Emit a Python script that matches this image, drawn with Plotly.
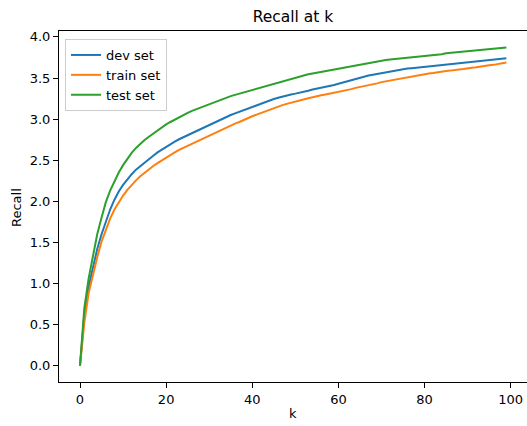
import plotly.graph_objects as go

k = list(range(100))

dev_set = [0.00, 0.62, 0.96, 1.19, 1.42, 1.60, 1.76, 1.90, 2.02, 2.12,
           2.20, 2.27, 2.33, 2.385, 2.43, 2.475, 2.515, 2.555, 2.595, 2.63,
           2.665, 2.695, 2.725, 2.755, 2.78, 2.805, 2.83, 2.855, 2.88, 2.905,
           2.93, 2.955, 2.98, 3.005, 3.03, 3.05, 3.07, 3.09, 3.11, 3.13,
           3.15, 3.17, 3.19, 3.21, 3.23, 3.245, 3.26, 3.275, 3.29, 3.30,
           3.31, 3.32, 3.33, 3.345, 3.36, 3.37, 3.38, 3.39, 3.40, 3.415,
           3.43, 3.445, 3.46, 3.47, 3.485, 3.50, 3.515, 3.53, 3.54, 3.55,
           3.56, 3.57, 3.58, 3.59, 3.60, 3.61, 3.615, 3.62, 3.625, 3.63,
           3.64, 3.645, 3.65, 3.655, 3.66, 3.665, 3.67, 3.675, 3.68, 3.685,
           3.69, 3.70, 3.70, 3.71, 3.715, 3.72, 3.725, 3.73, 3.735, 3.74]

train_set = [0.00, 0.52, 0.88, 1.11, 1.32, 1.51, 1.66, 1.79, 1.90, 1.99,
             2.07, 2.14, 2.20, 2.255, 2.305, 2.35, 2.39, 2.43, 2.465, 2.50,
             2.535, 2.565, 2.595, 2.625, 2.65, 2.675, 2.70, 2.725, 2.75, 2.775,
             2.80, 2.825, 2.85, 2.875, 2.895, 2.92, 2.945, 2.965, 2.99, 3.01,
             3.035, 3.055, 3.075, 3.095, 3.115, 3.135, 3.155, 3.17, 3.185, 3.20,
             3.215, 3.23, 3.24, 3.255, 3.265, 3.28, 3.29, 3.30, 3.31, 3.325,
             3.335, 3.345, 3.355, 3.365, 3.38, 3.39, 3.40, 3.415, 3.425, 3.435,
             3.45, 3.46, 3.47, 3.48, 3.49, 3.50, 3.51, 3.52, 3.53, 3.54,
             3.55, 3.555, 3.56, 3.57, 3.575, 3.585, 3.59, 3.60, 3.605, 3.61,
             3.62, 3.625, 3.63, 3.64, 3.645, 3.655, 3.66, 3.67, 3.68, 3.69]

test_set = [0.00, 0.70, 1.06, 1.33, 1.60, 1.80, 1.99, 2.13, 2.25, 2.35,
            2.44, 2.52, 2.59, 2.65, 2.70, 2.745, 2.785, 2.825, 2.865, 2.90,
            2.935, 2.965, 2.995, 3.025, 3.05, 3.075, 3.10, 3.12, 3.145, 3.165,
            3.185, 3.205, 3.225, 3.245, 3.265, 3.28, 3.295, 3.31, 3.325, 3.34,
            3.355, 3.37, 3.385, 3.40, 3.415, 3.43, 3.445, 3.46, 3.475, 3.49,
            3.505, 3.52, 3.535, 3.545, 3.555, 3.565, 3.575, 3.585, 3.595, 3.60,
            3.61, 3.62, 3.63, 3.64, 3.655, 3.665, 3.675, 3.685, 3.695, 3.705,
            3.715, 3.72, 3.725, 3.73, 3.735, 3.74, 3.745, 3.75, 3.755, 3.76,
            3.765, 3.775, 3.78, 3.785, 3.79, 3.80, 3.805, 3.81, 3.815, 3.82,
            3.825, 3.83, 3.835, 3.84, 3.845, 3.85, 3.855, 3.86, 3.865, 3.87]

series = [("dev set", dev_set, "#1f77b4"),
          ("train set", train_set, "#ff7f0e"),
          ("test set", test_set, "#2ca02c")]

x_ticks = [0, 20, 40, 60, 80, 100]
y_ticks = [0.0, 0.5, 1.0, 1.5, 2.0, 2.5, 3.0, 3.5, 4.0]

FONT = "DejaVu Sans"

fig = go.Figure()
for name, vals, col in series:
    fig.add_trace(go.Scatter(x=k, y=vals, mode="lines", name=name,
                             line=dict(color=col, width=2)))

W, H = 527, 426
L, R, T, B = 59, 0, 31, 44
plot_w = W - L - R
plot_h = H - T - B

fig.update_layout(
    width=W, height=H,
    margin=dict(l=L, r=R, t=T, b=B, pad=0),
    paper_bgcolor="white", plot_bgcolor="white",
    font=dict(family=FONT, size=13, color="black"),
    title=dict(text="Recall at k", x=293 / W, xanchor="center",
               y=1 - 17 / H, yanchor="middle", yref="container",
               font=dict(family=FONT, size=15.5, color="black")),
    showlegend=True,
    legend=dict(x=(65 - L) / plot_w, y=1 - (39 - T) / plot_h,
                xanchor="left", yanchor="top",
                bgcolor="rgba(255,255,255,0.8)", bordercolor="#cccccc",
                borderwidth=1, font=dict(family=FONT, size=13, color="black"),
                tracegroupgap=0),
    xaxis=dict(range=[-4.876, 103.79], tickvals=x_ticks,
               ticktext=[str(v) for v in x_ticks],
               showgrid=False, zeroline=False, showline=True, mirror=True,
               linecolor="black", linewidth=1, ticks="outside", ticklen=5,
               tickwidth=1, tickcolor="black",
               tickfont=dict(family=FONT, size=13, color="black")),
    yaxis=dict(range=[-0.198, 4.072], tickvals=y_ticks,
               ticktext=[f"{v:.1f}" for v in y_ticks],
               showgrid=False, zeroline=False, showline=True, mirror=False,
               linecolor="black", linewidth=1, ticks="outside", ticklen=5,
               tickwidth=1, tickcolor="black",
               tickfont=dict(family=FONT, size=13, color="black")),
    annotations=[
        dict(text="k", xref="paper", yref="paper", x=0.5,
             y=(382 - 413) / plot_h,
             xanchor="center", yanchor="middle", showarrow=False,
             font=dict(family=FONT, size=13, color="black")),
        dict(text="Recall", xref="paper", yref="paper", x=(16 - L) / plot_w,
             y=(382 - 208) / plot_h, xanchor="center", yanchor="middle",
             textangle=-90, showarrow=False,
             font=dict(family=FONT, size=13, color="black")),
    ],
)

fig.write_html("out.html")
